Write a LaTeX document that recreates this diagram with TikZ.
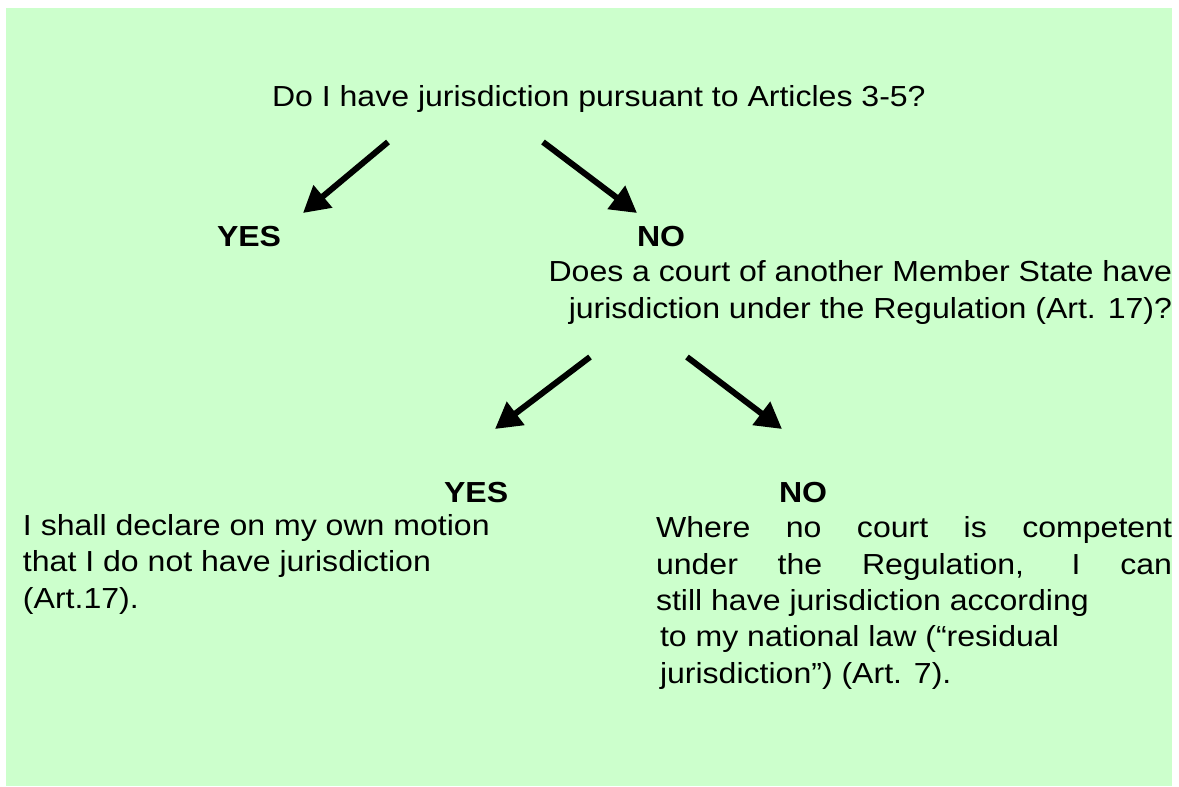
\documentclass[tikz,border=0pt]{standalone}
\usepackage{fontspec}
\setmainfont[FakeStretch=1.105]{Liberation Sans}
\usetikzlibrary{arrows.meta}
\definecolor{bggreen}{HTML}{CCFFCC}
\tikzset{
  txt/.style={inner sep=0pt, outer sep=0pt, font=\fontsize{29}{36.3}\selectfont},
  ans/.style={txt, font=\fontsize{29}{36.3}\selectfont\bfseries},
  bigarrow/.style={line width=6pt, -{Triangle[length=26pt,width=28pt]}},
}
\begin{document}
\begin{tikzpicture}[x=1pt,y=-1pt]
\useasboundingbox (0,0) rectangle (1179,787);
\fill[bggreen] (6,8) rectangle (1172,786);

\node[txt, anchor=base west] (q1) at (272,106) {Do I have jurisdiction pursuant to Articles 3-5?};
\node[ans, anchor=base west] (yes1) at (217,246) {YES};
\node[ans, anchor=base west] (no1) at (637,246) {NO};
\node[txt, anchor=base east, align=right] (q2) at (1172,318) {Does a court of another Member State have\\jurisdiction under the Regulation (Art. 17)?};
\node[ans, anchor=base west] (yes2) at (444,502) {YES};
\node[ans, anchor=base west] (no2) at (779,502) {NO};
\node[txt, anchor=base west, align=left] (ansyes) at (23,608) {I shall declare on my own motion\\that I do not have jurisdiction\\(Art.17).};
\node[txt, anchor=base west, align=left] (ansno) at (656,683) {\makebox[516pt][s]{Where no court is competent}\\\makebox[516pt][s]{under the Regulation, I can}\\still have jurisdiction according\\\hspace*{4pt}to my national law (“residual\\\hspace*{4pt}jurisdiction”) (Art. 7).};

\coordinate (a1s) at (388,142); \coordinate (a1e) at (303,213);
\coordinate (a2s) at (543,142); \coordinate (a2e) at (637,213);
\coordinate (a3s) at (590,357); \coordinate (a3e) at (495,429);
\coordinate (a4s) at (687,357); \coordinate (a4e) at (782,429);
\draw[bigarrow] (a1s) -- (a1e);
\draw[bigarrow] (a2s) -- (a2e);
\draw[bigarrow] (a3s) -- (a3e);
\draw[bigarrow] (a4s) -- (a4e);
\end{tikzpicture}
\end{document}
